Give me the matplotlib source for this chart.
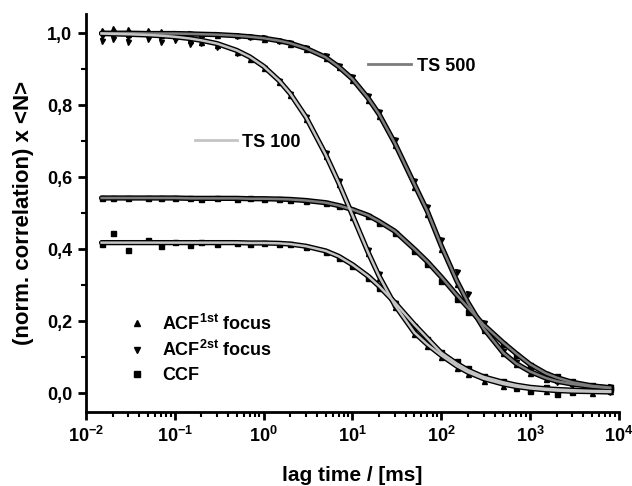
import numpy as np
import matplotlib
matplotlib.use("Agg")
import matplotlib.pyplot as plt
from matplotlib.lines import Line2D
from matplotlib.ticker import (LogLocator, FixedLocator, MultipleLocator,
                               FuncFormatter, NullFormatter, LogFormatterSciNotation)

# ================= fonts =================
plt.rcParams["font.family"] = ["Liberation Sans", "DejaVu Sans"]
plt.rcParams["font.weight"] = "bold"
plt.rcParams["mathtext.fontset"] = "custom"
plt.rcParams["mathtext.rm"] = "Liberation Sans:bold"
plt.rcParams["mathtext.it"] = "Liberation Sans:bold"
plt.rcParams["mathtext.bf"] = "Liberation Sans:bold"
plt.rcParams["mathtext.default"] = "rm"

OUTPUT_FILE = "out.png"

# ================= data =================
lag = [0.015, 0.02, 0.03, 0.05, 0.07, 0.1, 0.15, 0.2, 0.3, 0.5, 0.7,
       1, 1.5, 2, 3, 5, 7, 10, 15, 20, 30, 50, 70, 100, 150, 200, 300,
       500, 700, 1000, 1500, 2000, 3000, 5000, 8000]

decades = [1e-2, 1e-1, 1e0, 1e1, 1e2, 1e3, 1e4]

# TS 500
acf1_500 = [1.010, 1.004, 1.012, 1.002, 1.006, 1.001, 0.999, 0.998, 0.995, 0.994,
            0.991, 0.985, 0.980, 0.970, 0.957, 0.931, 0.905, 0.870, 0.815, 0.770,
            0.690, 0.572, 0.497, 0.400, 0.303, 0.245, 0.175, 0.110, 0.080, 0.056,
            0.040, 0.036, 0.028, 0.020, 0.016]
acf2_500 = [0.992, 0.996, 0.990, 0.997, 0.994, 0.998, 0.997, 0.996, 0.996, 0.992,
            0.989, 0.986, 0.979, 0.973, 0.960, 0.936, 0.910, 0.877, 0.826, 0.782,
            0.703, 0.590, 0.517, 0.425, 0.335, 0.275, 0.195, 0.118, 0.085, 0.062,
            0.045, 0.030, 0.022, 0.016, 0.018]
ccf_500 = [0.543, 0.541, 0.543, 0.541, 0.542, 0.541, 0.542, 0.540, 0.541, 0.540,
           0.541, 0.539, 0.539, 0.537, 0.534, 0.528, 0.520, 0.508, 0.491, 0.473,
           0.445, 0.394, 0.358, 0.312, 0.262, 0.226, 0.180, 0.136, 0.106, 0.078,
           0.052, 0.046, 0.033, 0.022, 0.017]
fit_acf_500 = [1.000, 1.000, 1.000, 0.999, 0.999, 0.999, 0.998, 0.997, 0.996, 0.993,
               0.990, 0.986, 0.979, 0.972, 0.958, 0.933, 0.907, 0.873, 0.820, 0.775,
               0.695, 0.580, 0.505, 0.410, 0.312, 0.252, 0.180, 0.112, 0.082, 0.060,
               0.042, 0.033, 0.025, 0.018, 0.014]
fit_ccf_500 = [0.542, 0.542, 0.542, 0.542, 0.542, 0.542, 0.541, 0.541, 0.541, 0.541,
               0.540, 0.540, 0.539, 0.538, 0.535, 0.529, 0.521, 0.510, 0.494, 0.477,
               0.450, 0.400, 0.365, 0.323, 0.272, 0.238, 0.190, 0.140, 0.110, 0.080,
               0.055, 0.043, 0.030, 0.020, 0.015]

# TS 100
acf1_100 = [1.006, 1.013, 0.998, 1.008, 0.996, 0.993, 0.982, 0.976, 0.966, 0.947,
            0.929, 0.903, 0.864, 0.828, 0.762, 0.660, 0.580, 0.490, 0.388, 0.320,
            0.240, 0.165, 0.132, 0.100, 0.070, 0.052, 0.034, 0.020, 0.014, 0.012,
            0.005, 0.002, 0.008, 0.000, 0.006]
acf2_100 = [0.978, 0.985, 0.975, 0.983, 0.976, 0.980, 0.970, 0.972, 0.962, 0.944,
            0.928, 0.904, 0.866, 0.831, 0.768, 0.666, 0.590, 0.500, 0.398, 0.330,
            0.250, 0.172, 0.138, 0.108, 0.078, 0.060, 0.042, 0.026, 0.020, 0.014,
            0.010, 0.009, 0.004, 0.006, 0.004]
ccf_100 = [0.415, 0.446, 0.398, 0.426, 0.408, 0.421, 0.412, 0.419, 0.414, 0.417,
           0.415, 0.418, 0.415, 0.413, 0.405, 0.392, 0.376, 0.352, 0.320, 0.292,
           0.248, 0.186, 0.150, 0.114, 0.088, 0.070, 0.048, 0.034, 0.016, 0.006,
           0.018, -0.004, 0.002, 0.012, 0.010]
fit_acf_100 = [0.999, 0.998, 0.997, 0.995, 0.993, 0.990, 0.985, 0.980, 0.971, 0.952,
               0.934, 0.908, 0.868, 0.832, 0.767, 0.663, 0.585, 0.495, 0.392, 0.325,
               0.245, 0.168, 0.135, 0.105, 0.075, 0.058, 0.040, 0.025, 0.018, 0.013,
               0.009, 0.007, 0.005, 0.004, 0.003]
fit_ccf_100 = [0.418, 0.418, 0.418, 0.418, 0.418, 0.418, 0.418, 0.418, 0.418, 0.418,
               0.417, 0.417, 0.416, 0.414, 0.408, 0.395, 0.380, 0.357, 0.325, 0.297,
               0.252, 0.190, 0.152, 0.112, 0.082, 0.064, 0.045, 0.030, 0.022, 0.016,
               0.012, 0.010, 0.008, 0.006, 0.005]

DARK_GRAY = "#7c7c7c"
LIGHT_GRAY = "#c4c4c4"


def draw_data(ax, y, marker):
    # measured points, small black markers
    ax.plot(lag, y, ls="none", marker=marker, ms=3.6, color="black", zorder=2)


def draw_fit(ax, y, color):
    # dense data hugging the fit -> black rim around the grey fit line
    ax.plot(lag, y, color="black", lw=3.8, solid_capstyle="round", zorder=2)
    ax.plot(lag, y, color=color, lw=1.8, zorder=3)


def main():
    fig = plt.figure(figsize=(6.32, 4.86), dpi=100)
    ax = fig.add_axes([0.136, 0.152, 0.843, 0.819])

    # TS 500
    draw_data(ax, acf1_500, "^")
    draw_data(ax, acf2_500, "v")
    draw_data(ax, ccf_500, "s")
    draw_fit(ax, fit_acf_500, DARK_GRAY)
    draw_fit(ax, fit_ccf_500, DARK_GRAY)

    # TS 100
    draw_data(ax, acf1_100, "^")
    draw_data(ax, acf2_100, "v")
    draw_data(ax, ccf_100, "s")
    draw_fit(ax, fit_acf_100, LIGHT_GRAY)
    draw_fit(ax, fit_ccf_100, LIGHT_GRAY)

    ax.set_xscale("log")
    ax.set_xlim(1e-2, 1e4)
    ax.set_ylim(-0.053, 1.053)

    ax.xaxis.set_major_locator(FixedLocator(decades))
    ax.xaxis.set_major_formatter(LogFormatterSciNotation())
    ax.xaxis.set_minor_locator(LogLocator(base=10, subs=np.arange(2, 10), numticks=20))
    ax.xaxis.set_minor_formatter(NullFormatter())
    ax.yaxis.set_major_locator(MultipleLocator(0.2))
    ax.yaxis.set_minor_locator(MultipleLocator(0.1))
    ax.yaxis.set_major_formatter(FuncFormatter(lambda v, _: f"{v:.1f}".replace(".", ",").replace("-0,0", "0,0")))

    for s in ["top", "right"]:
        ax.spines[s].set_visible(False)
    for s in ["left", "bottom"]:
        ax.spines[s].set_linewidth(2)

    ax.tick_params(which="major", direction="out", length=6, width=2, labelsize=13, pad=4)
    ax.tick_params(which="minor", direction="out", length=3.5, width=1.5)

    ax.set_xlabel("lag time / [ms]", fontsize=15, fontweight="bold", labelpad=14)
    ax.set_ylabel("(norm. correlation) x <N>", fontsize=16, fontweight="bold", labelpad=9)

    # marker legend
    handles = [
        Line2D([], [], ls="none", marker="^", ms=5, color="black"),
        Line2D([], [], ls="none", marker="v", ms=5, color="black"),
        Line2D([], [], ls="none", marker="s", ms=4.5, color="black"),
    ]
    labels = [r"ACF$^{\mathregular{1st}}$ focus", r"ACF$^{\mathregular{2st}}$ focus", "CCF"]
    leg = ax.legend(handles, labels, loc="upper left", bbox_to_anchor=(0.075, 0.248),
                    frameon=False, fontsize=13, handlelength=1.2, handletextpad=0.8,
                    labelspacing=0.38, borderpad=0, borderaxespad=0)
    ax.add_artist(leg)

    # sample size tags
    leg100 = ax.legend([Line2D([], [], color=LIGHT_GRAY, lw=2)], ["TS 100"],
                       loc="center left", bbox_to_anchor=(0.205, 0.678), frameon=False,
                       fontsize=13, handlelength=2.3, handletextpad=0.3,
                       borderpad=0, borderaxespad=0)
    ax.add_artist(leg100)
    ax.legend([Line2D([], [], color=DARK_GRAY, lw=2)], ["TS 500"],
              loc="center left", bbox_to_anchor=(0.529, 0.869), frameon=False,
              fontsize=13, handlelength=2.4, handletextpad=0.3,
              borderpad=0, borderaxespad=0)

    fig.savefig(OUTPUT_FILE, dpi=100)
    print(f"Figure saved to: {OUTPUT_FILE}")


if __name__ == "__main__":
    main()
